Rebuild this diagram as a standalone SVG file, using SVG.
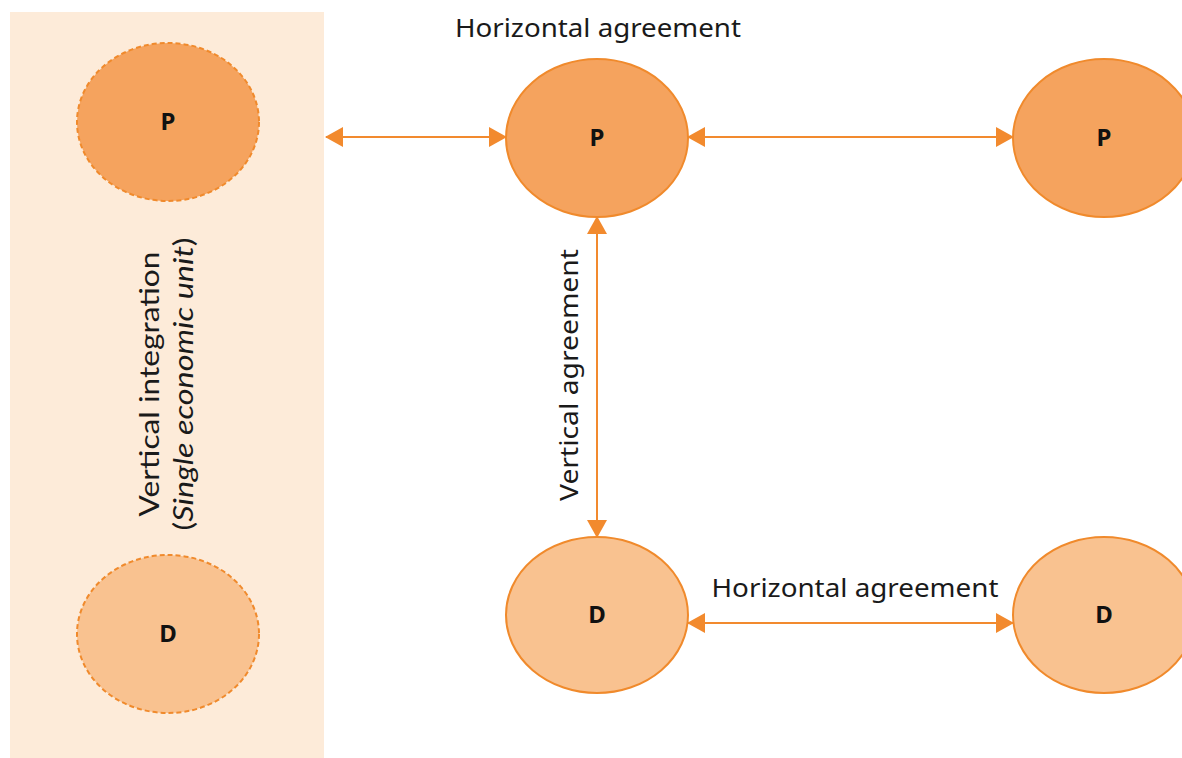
<svg xmlns="http://www.w3.org/2000/svg" width="1182" height="758" viewBox="0 0 1182 758">
  <style>
    .lbl { font-family: "Noto Sans", "Open Sans", sans-serif; font-size: 25px; fill: #1a1a1a; }
    .side { font-family: "Lato", "Open Sans", sans-serif; font-size: 27px; fill: #1a1a1a; }
    .node-txt { font-family: "Noto Sans", "Open Sans", sans-serif; font-size: 24px; font-weight: bold; fill: #111; text-anchor: middle; }
    .p { fill: #F5A35E; stroke: #F08A2C; stroke-width: 2; }
    .d { fill: #F9C290; stroke: #F08A2C; stroke-width: 2; }
    .dash { stroke-dasharray: 5 3; }
    .conn { stroke: #F28A2E; stroke-width: 2; fill: none; marker-start: url(#head); marker-end: url(#head); }
  </style>
  <defs>
    <marker id="head" viewBox="0 0 18 20" refX="17" refY="10" markerWidth="18" markerHeight="20" markerUnits="userSpaceOnUse" orient="auto-start-reverse">
      <path d="M0,0 L18,10 L0,20 z" fill="#F28A2E"/>
    </marker>
  </defs>

  <!-- shaded single economic unit band -->
  <rect x="10" y="12" width="314" height="746" fill="#FDEBD9"/>

  <g id="integration-label">
    <text class="side" transform="translate(159,384) rotate(-90)" text-anchor="middle" textLength="265" lengthAdjust="spacingAndGlyphs">Vertical integration</text>
    <text class="side" transform="translate(193,384) rotate(-90)" text-anchor="middle" textLength="293" lengthAdjust="spacingAndGlyphs">(<tspan font-style="italic">Single economic unit</tspan>)</text>
  </g>

  <g id="connectors">
    <line class="conn" x1="326" y1="137" x2="506" y2="137"/>
    <line class="conn" x1="688" y1="137" x2="1013" y2="137"/>
    <line class="conn" x1="597" y1="217" x2="597" y2="537"/>
    <line class="conn" x1="688" y1="623" x2="1013" y2="623"/>
  </g>

  <g id="label-top">
    <text class="lbl" x="598" y="37" text-anchor="middle" textLength="286" lengthAdjust="spacingAndGlyphs">Horizontal agreement</text>
  </g>
  <g id="label-bottom">
    <text class="lbl" x="855" y="597" text-anchor="middle" textLength="287" lengthAdjust="spacingAndGlyphs">Horizontal agreement</text>
  </g>
  <g id="label-vertical">
    <text class="lbl" transform="translate(578,375) rotate(-90)" text-anchor="middle" textLength="252" lengthAdjust="spacingAndGlyphs" font-family="Liberation Sans, Arial, sans-serif" font-size="25">Vertical agreement</text>
  </g>

  <g id="node-p-integrated">
    <ellipse class="p dash" cx="168" cy="122" rx="91" ry="79"/>
    <text class="node-txt" x="168" y="130">P</text>
  </g>
  <g id="node-d-integrated">
    <ellipse class="d dash" cx="168" cy="634" rx="91" ry="79"/>
    <text class="node-txt" x="168" y="642">D</text>
  </g>
  <g id="node-p-centre">
    <ellipse class="p" cx="597" cy="138" rx="91" ry="79"/>
    <text class="node-txt" x="597" y="146">P</text>
  </g>
  <g id="node-p-right">
    <ellipse class="p" cx="1104" cy="138" rx="91" ry="79"/>
    <text class="node-txt" x="1104" y="146">P</text>
  </g>
  <g id="node-d-centre">
    <ellipse class="d" cx="597" cy="615" rx="91" ry="78"/>
    <text class="node-txt" x="597" y="623">D</text>
  </g>
  <g id="node-d-right">
    <ellipse class="d" cx="1104" cy="615" rx="91" ry="78"/>
    <text class="node-txt" x="1104" y="623">D</text>
  </g>
</svg>
